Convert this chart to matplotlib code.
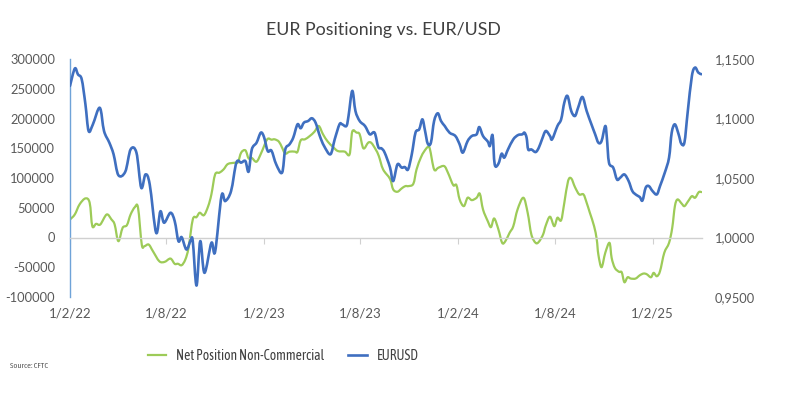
import matplotlib
matplotlib.use("Agg")
import matplotlib.pyplot as plt
import matplotlib.dates as mdates
from matplotlib.ticker import FuncFormatter, MultipleLocator
from matplotlib.path import Path
from matplotlib.patches import PathPatch
from matplotlib.lines import Line2D
import numpy as np
import pandas as pd

# ---------------- data ----------------
net_dates = [
    "2022-02-01", "2022-02-10", "2022-02-19", "2022-03-02", "2022-03-10", "2022-03-15", "2022-03-22",
    "2022-03-30", "2022-04-11", "2022-04-20", "2022-04-26", "2022-05-03", "2022-05-11", "2022-05-19",
    "2022-05-26", "2022-06-03", "2022-06-09", "2022-06-16", "2022-06-21", "2022-06-29", "2022-07-07",
    "2022-07-19", "2022-07-29", "2022-08-09", "2022-08-17", "2022-08-23", "2022-08-30", "2022-09-06",
    "2022-09-12", "2022-09-20", "2022-09-27", "2022-10-03", "2022-10-11", "2022-10-19", "2022-10-25",
    "2022-11-01", "2022-11-09", "2022-11-17", "2022-11-25", "2022-12-08", "2022-12-14", "2022-12-20",
    "2022-12-28", "2023-01-03", "2023-01-09", "2023-01-18", "2023-01-27", "2023-02-07", "2023-02-15",
    "2023-02-21", "2023-03-01", "2023-03-07", "2023-03-13", "2023-03-21", "2023-03-31", "2023-04-05",
    "2023-04-11", "2023-04-19", "2023-04-28", "2023-05-07", "2023-05-15", "2023-05-23", "2023-06-01",
    "2023-06-11", "2023-06-20", "2023-07-03", "2023-07-12", "2023-07-17", "2023-07-25", "2023-07-31",
    "2023-08-07", "2023-08-16", "2023-08-22", "2023-08-30", "2023-09-05", "2023-09-13", "2023-09-26",
    "2023-10-02", "2023-10-10", "2023-10-18", "2023-10-25", "2023-10-31", "2023-11-09", "2023-11-15",
    "2023-11-23", "2023-11-29", "2023-12-06", "2023-12-10", "2023-12-18", "2023-12-26", "2024-01-06",
    "2024-01-13", "2024-01-23", "2024-01-29", "2024-02-04", "2024-02-12", "2024-02-19", "2024-02-27",
    "2024-03-07", "2024-03-13", "2024-03-19", "2024-03-28", "2024-04-03", "2024-04-09", "2024-04-17",
    "2024-04-24", "2024-04-30", "2024-05-08", "2024-05-15", "2024-05-23", "2024-06-03", "2024-06-11",
    "2024-06-18", "2024-06-26", "2024-07-02", "2024-07-10", "2024-07-15", "2024-07-23", "2024-07-31",
    "2024-08-06", "2024-08-13", "2024-08-19", "2024-08-26", "2024-09-01", "2024-09-08", "2024-09-16",
    "2024-09-24", "2024-09-30", "2024-10-06", "2024-10-14", "2024-10-19", "2024-10-22", "2024-10-28",
    "2024-11-04", "2024-11-12", "2024-11-16", "2024-11-22", "2024-11-30", "2024-12-05", "2024-12-10",
    "2024-12-16", "2024-12-22", "2024-12-31", "2025-01-08", "2025-01-15", "2025-01-21", "2025-01-29",
    "2025-02-03", "2025-02-09", "2025-02-15", "2025-02-23", "2025-03-04", "2025-03-10", "2025-03-15",
    "2025-03-20", "2025-03-28", "2025-04-02", "2025-04-09", "2025-04-16", "2025-04-22", "2025-04-29",
    "2025-05-04",
]
net_position = [
    30300, 38700, 55600, 65700, 58400, 19000, 23000,
    21900, 38700, 30300, 21900, -6200, 16300, 20700,
    38700, 51000, 50000, -11800, -14600, -11800, -23000,
    -39900, -41000, -35400, -44300, -44100, -46600, -37000,
    -17400, 30300, 34200, 41600, 37500, 52700, 72400,
    106000, 108900, 114500, 123500, 125700, 126500, 142600,
    146500, 133000, 133700, 127400, 142600, 165000, 164400,
    165000, 161100, 151000, 140900, 144300, 144300, 144000,
    163300, 165000, 170500, 177900, 187400, 173400, 161100,
    152000, 145300, 144300, 139700, 177900, 176300, 173400,
    149800, 159400, 158900, 148100, 136900, 114500, 98500,
    80800, 76900, 82500, 86400, 86400, 90400, 114500,
    134200, 144300, 152000, 149000, 114500, 117300, 120000,
    108900, 88000, 88000, 64000, 52700, 66800, 62800,
    66800, 73600, 47100, 27400, 17400, 32000, 13500,
    -9000, -6200, 7900, 19000, 47100, 66800, 41600,
    5000, -9000, -7300, 5000, 20000, 35000, 19000,
    33200, 29000, 58400, 94800, 99300, 84700, 72400,
    72400, 58400, 41600, 19000, -3400, -28600, -50000,
    -25800, -9000, -34200, -51000, -57700, -58500, -75200,
    -66800, -69000, -69000, -63500, -60600, -61700, -66800,
    -59400, -65100, -56700, -25800, -9000, 16300, 52700,
    64000, 56700, 52700, 61100, 69500, 66800, 76300,
    76300,
]

fx_dates = [
    "2022-02-01", "2022-02-10", "2022-02-16", "2022-02-23", "2022-03-02", "2022-03-08", "2022-03-16",
    "2022-03-29", "2022-04-06", "2022-04-16", "2022-04-24", "2022-05-03", "2022-05-16", "2022-05-26",
    "2022-06-06", "2022-06-15", "2022-06-23", "2022-07-01", "2022-07-13", "2022-07-21", "2022-07-28",
    "2022-08-09", "2022-08-17", "2022-08-24", "2022-08-30", "2022-09-08", "2022-09-16", "2022-09-20",
    "2022-09-27", "2022-10-04", "2022-10-12", "2022-10-25", "2022-11-01", "2022-11-13", "2022-11-20",
    "2022-12-01", "2022-12-11", "2022-12-20", "2022-12-28", "2023-01-03", "2023-01-09", "2023-01-18",
    "2023-01-26", "2023-02-01", "2023-02-08", "2023-02-15", "2023-02-24", "2023-03-07", "2023-03-13",
    "2023-03-21", "2023-03-28", "2023-04-05", "2023-04-11", "2023-04-17", "2023-04-25", "2023-05-02",
    "2023-05-09", "2023-05-17", "2023-05-25", "2023-06-06", "2023-06-14", "2023-06-23", "2023-06-28",
    "2023-07-06", "2023-07-10", "2023-07-17", "2023-07-23", "2023-07-31", "2023-08-10", "2023-08-19",
    "2023-08-28", "2023-09-04", "2023-09-10", "2023-09-16", "2023-09-26", "2023-10-02", "2023-10-10",
    "2023-10-18", "2023-10-24", "2023-10-30", "2023-11-06", "2023-11-13", "2023-11-20", "2023-11-26",
    "2023-12-01", "2023-12-06", "2023-12-12", "2023-12-18", "2023-12-25", "2023-12-31", "2024-01-07",
    "2024-01-16", "2024-01-27", "2024-02-04", "2024-02-10", "2024-02-19", "2024-02-27", "2024-03-07",
    "2024-03-12", "2024-03-19", "2024-03-28", "2024-04-01", "2024-04-06", "2024-04-10", "2024-04-17",
    "2024-04-23", "2024-04-28", "2024-05-05", "2024-05-15", "2024-05-24", "2024-06-01", "2024-06-05",
    "2024-06-09", "2024-06-12", "2024-06-18", "2024-06-26", "2024-07-02", "2024-07-08", "2024-07-15",
    "2024-07-23", "2024-07-27", "2024-08-06", "2024-08-13", "2024-08-19", "2024-08-25", "2024-09-01",
    "2024-09-08", "2024-09-14", "2024-09-22", "2024-09-30", "2024-10-09", "2024-10-16", "2024-10-22",
    "2024-10-28", "2024-11-04", "2024-11-07", "2024-11-11", "2024-11-19", "2024-11-26", "2024-12-02",
    "2024-12-10", "2024-12-18", "2024-12-25", "2025-01-02", "2025-01-08", "2025-01-13", "2025-01-19",
    "2025-01-25", "2025-02-01", "2025-02-09", "2025-02-15", "2025-02-24", "2025-03-04", "2025-03-09",
    "2025-03-15", "2025-03-22", "2025-03-27", "2025-04-02", "2025-04-08", "2025-04-16", "2025-04-22",
    "2025-04-28", "2025-05-04",
]
eurusd = [
    1.1274, 1.1420, 1.1370, 1.1330, 1.1120, 1.0895, 1.0950,
    1.1090, 1.0895, 1.0797, 1.0699, 1.0524, 1.0553, 1.0740,
    1.0713, 1.0418, 1.0530, 1.0446, 1.0040, 1.0220, 1.0124,
    1.0208, 1.0137, 0.9969, 1.0003, 0.9899, 0.9975, 0.9969,
    0.9596, 0.9969, 0.9703, 0.9955, 0.9880, 1.0348, 1.0306,
    1.0390, 1.0629, 1.0629, 1.0642, 1.0553, 1.0740, 1.0797,
    1.0881, 1.0844, 1.0726, 1.0730, 1.0614, 1.0545, 1.0740,
    1.0783, 1.0839, 1.0951, 1.0918, 1.0965, 1.0979, 1.1002,
    1.0965, 1.0853, 1.0769, 1.0699, 1.0825, 1.0951, 1.0951,
    1.0937, 1.1021, 1.1232, 1.1063, 1.0979, 1.0937, 1.0867,
    1.0881, 1.0760, 1.0749, 1.0713, 1.0590, 1.0474, 1.0614,
    1.0587, 1.0592, 1.0572, 1.0699, 1.0881, 1.0909, 1.0993,
    1.0895, 1.0789, 1.0797, 1.0979, 1.1044, 1.0979, 1.0937,
    1.0881, 1.0853, 1.0783, 1.0713, 1.0810, 1.0853, 1.0867,
    1.0928, 1.0853, 1.0806, 1.0769, 1.0859, 1.0614, 1.0620,
    1.0704, 1.0671, 1.0740, 1.0825, 1.0861, 1.0867, 1.0881,
    1.0839, 1.0740, 1.0740, 1.0718, 1.0755, 1.0825, 1.0895,
    1.0853, 1.0825, 1.0937, 1.0993, 1.1134, 1.1189, 1.1063,
    1.1021, 1.1092, 1.1181, 1.1063, 1.0951, 1.0867, 1.0797,
    1.0810, 1.0937, 1.0839, 1.0629, 1.0587, 1.0488, 1.0502,
    1.0530, 1.0474, 1.0390, 1.0356, 1.0340, 1.0311, 1.0418,
    1.0432, 1.0390, 1.0362, 1.0432, 1.0545, 1.0671, 1.0881,
    1.0951, 1.0867, 1.0789, 1.0800, 1.1050, 1.1358, 1.1428,
    1.1386, 1.1372,
]

tick_dates = ["2022-02-01", "2022-08-01", "2023-02-01", "2023-08-01",
              "2024-02-01", "2024-08-01", "2025-02-01"]
tick_labels = ["1/2/22", "1/8/22", "1/2/23", "1/8/23", "1/2/24", "1/8/24", "1/2/25"]
x_range = ["2022-02-01", "2025-05-05"]

title = "EUR Positioning vs. EUR/USD"
source = "Source: CFTC"
series_names = ["Net Position Non-Commercial", "EURUSD"]

# ---------------- style ----------------
GREEN = "#9DCB58"
BLUE = "#3F6FC0"
TXT = "#595959"
plt.rcParams["font.family"] = ["Lato", "DejaVu Sans"]
NARROW = ["Asap Condensed", "Lato", "DejaVu Sans"]


def smooth_path(x, y):
    """Excel-like smoothed line: cubic Bezier through every data point."""
    p = np.column_stack([x, y]).astype(float)
    pp = np.vstack([p[0], p, p[-1]])
    verts = [p[0]]
    codes = [Path.MOVETO]
    for i in range(len(p) - 1):
        a, b, c, d = pp[i], pp[i + 1], pp[i + 2], pp[i + 3]
        verts += [b + (c - a) / 6.0, c - (d - b) / 6.0, c]
        codes += [Path.CURVE4] * 3
    return Path(verts, codes)


W, H = 786, 395
fig = plt.figure(figsize=(W / 100, H / 100), dpi=100)
ax = fig.add_axes([70 / W, 1 - 297 / H, (702 - 70) / W, (297 - 59) / H])
ax2 = ax.twinx()

ax.set_xlim(pd.to_datetime(x_range[0]), pd.to_datetime(x_range[1]))
ax.set_ylim(-100000, 300000)
ax2.set_ylim(0.95, 1.15)

nd = mdates.date2num(pd.to_datetime(net_dates))
fd = mdates.date2num(pd.to_datetime(fx_dates))
ax.add_patch(PathPatch(smooth_path(nd, net_position), fill=False, edgecolor=GREEN,
                       lw=1.6, joinstyle="round", capstyle="round"))
ax2.add_patch(PathPatch(smooth_path(fd, eurusd), fill=False, edgecolor=BLUE,
                        lw=1.9, joinstyle="round", capstyle="round"))
h1 = Line2D([], [], color=GREEN, lw=1.6)
h2 = Line2D([], [], color=BLUE, lw=1.9)

ax.yaxis.set_major_locator(MultipleLocator(50000))
ax2.yaxis.set_major_locator(MultipleLocator(0.05))
ax.yaxis.set_major_formatter(FuncFormatter(lambda v, p: f"{v:.0f}"))
ax2.yaxis.set_major_formatter(FuncFormatter(lambda v, p: f"{v:.4f}".replace(".", ",")))

for s in ["top", "right"]:
    ax.spines[s].set_visible(False)
for s in ax2.spines.values():
    s.set_visible(False)
ax.spines["left"].set_color("#6FA3D8")
ax.spines["left"].set_linewidth(1.0)
ax.spines["bottom"].set_position(("data", 0))
ax.spines["bottom"].set_color("#D0D0D0")
ax.spines["bottom"].set_linewidth(1.0)

tnum = mdates.date2num(pd.to_datetime(tick_dates))
ax.set_xticks(tnum)
ax.tick_params(axis="x", direction="out", length=4, color="#D0D0D0", labelbottom=False)
sec = ax.secondary_xaxis("bottom")
sec.set_xticks(tnum, tick_labels)
sec.tick_params(length=0, pad=7.5, labelsize=9.5, labelcolor=TXT)
for s in sec.spines.values():
    s.set_visible(False)

ax.tick_params(axis="y", length=0, pad=10.8, labelsize=9.3, labelcolor=TXT)
ax2.tick_params(axis="y", length=0, pad=9.4, labelsize=9.3, labelcolor=TXT)

fig.text(383 / W, 1 - 30 / H, title, ha="center", va="center", fontsize=12.8, color="#404040")
fig.text(10 / W, 1 - 366 / H, source, ha="left", va="center", fontsize=6, color=TXT,
         family=NARROW)

fig.legend([h1, h2], series_names, loc="center", bbox_to_anchor=(283 / W, 1 - 356 / H),
           ncol=2, frameon=False, prop={"family": NARROW, "size": 9.8},
           handlelength=1.36, handletextpad=0.7, columnspacing=1.8, labelcolor="#404040")

fig.savefig("out.png", dpi=100)
